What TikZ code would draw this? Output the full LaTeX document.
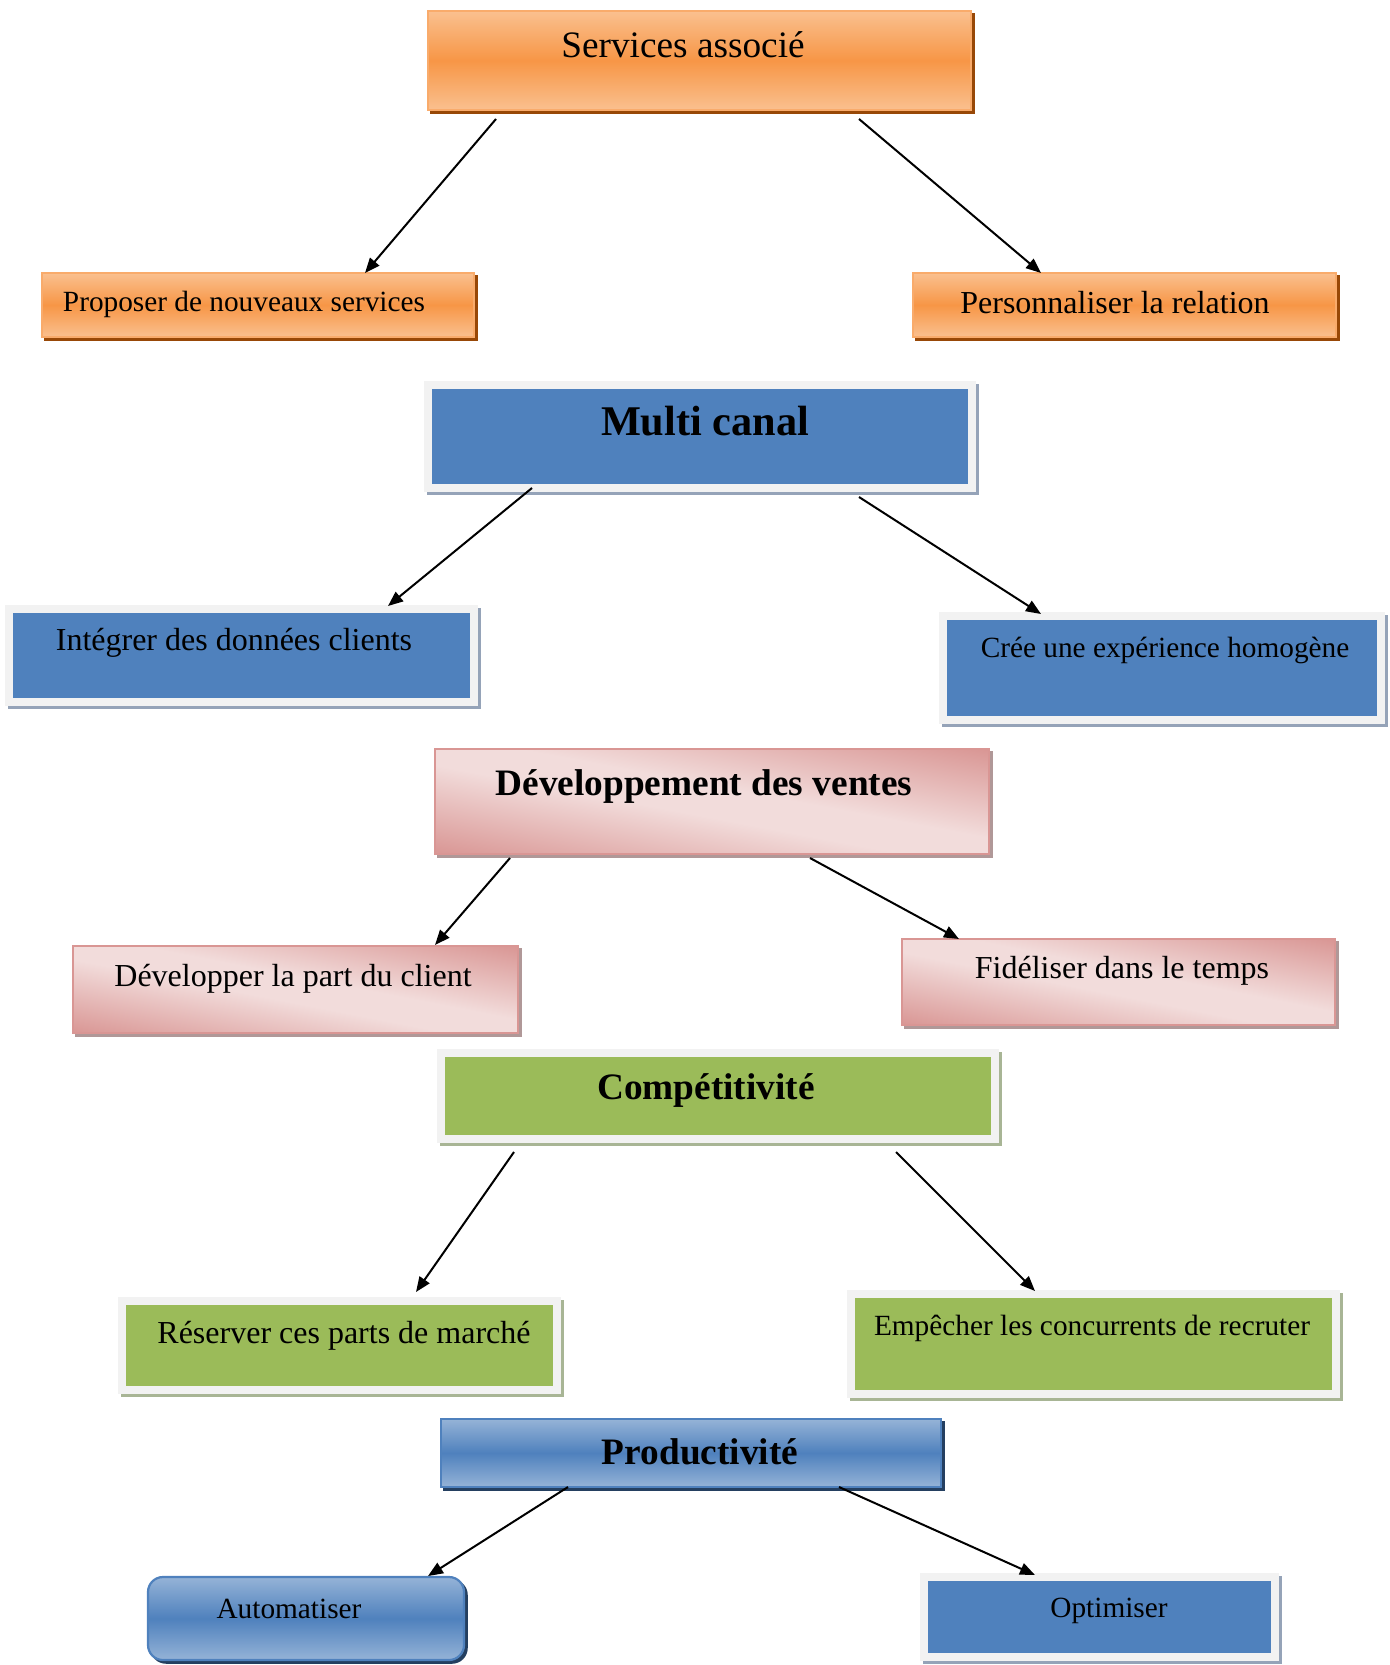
\documentclass[tikz,border=0pt]{standalone}
\usepackage{fontspec}
\setmainfont{Liberation Serif}
\usetikzlibrary{arrows.meta,calc}

\definecolor{orLight}{HTML}{FAC08F}
\definecolor{orMid}{HTML}{F79646}
\definecolor{orShadow}{HTML}{984807}
\definecolor{blMid}{HTML}{4F81BD}
\definecolor{blLight}{HTML}{95B3D7}
\definecolor{blShadow}{HTML}{243F60}
\definecolor{blGray}{HTML}{95A3B8}
\definecolor{pkDark}{HTML}{D99694}
\definecolor{pkLight}{HTML}{F2DCDB}
\definecolor{pkShadow}{HTML}{B09898}
\definecolor{grFill}{HTML}{9BBB59}
\definecolor{grShadow}{HTML}{A8B595}
\definecolor{frameGray}{HTML}{F2F2F2}

% pink fill: light along the top-left/bottom-right diagonal, D99694 towards
% the bottom-left and top-right corners (F2DCDB -> D99694)
\pgfdeclarefunctionalshading{pinkdiag}{\pgfpointorigin}{\pgfpoint{100bp}{100bp}}{}{
  add 100 sub abs 50 div 0.15 sub 0.85 div dup abs add 2 div
  dup -0.098 mul 0.949 add exch
  dup -0.275 mul 0.863 add exch
  -0.279 mul 0.859 add
}

\tikzset{
  wh/.style 2 args={rectangle, minimum width=#1*0.5pt, minimum height=#2*0.5pt,
    inner sep=0pt, outer sep=0pt},
  shadowed/.style={preaction={fill=#1, draw=#1, line width=0.75pt,
    transform canvas={xshift=1.5pt, yshift=-1.5pt}}},
  orangebox/.style={shadowed=orShadow, draw=orMid!80!white, line width=0.75pt,
    top color=orLight, bottom color=orLight, middle color=orMid},
  pinkbox/.style={shadowed=pkShadow, draw=pkDark, line width=0.75pt,
    shading=pinkdiag},
  bluegrad/.style={shadowed=blShadow, draw=blMid, line width=0.9pt,
    top color=blLight, bottom color=blLight, middle color=blMid},
  framed/.style={preaction={fill=#1, draw=#1, line width=4pt,
    transform canvas={xshift=1.5pt, yshift=-1.5pt}},
    draw=frameGray, line width=4pt},
  bluebox/.style={framed=blGray, fill=blMid},
  greenbox/.style={framed=grShadow, fill=grFill},
  lbl/.style={inner sep=0pt, text height=1em, text depth=0.02em, anchor=center},
  lblbig/.style={inner sep=0pt, text height=1.16em, text depth=0.02em, anchor=center},
  txtS/.style={lbl, font=\fontsize{14.65}{17}\selectfont},
  txtM/.style={lbl, font=\fontsize{16}{19}\selectfont},
  txtR/.style={lblbig, font=\fontsize{18.65}{22}\selectfont},
  txtB/.style={lblbig, font=\fontsize{18.65}{22}\selectfont\bfseries},
  txtL/.style={lblbig, font=\fontsize{21.15}{25}\selectfont\bfseries},
  arr/.style={line width=1pt, -{Triangle[length=7.5pt, width=6pt]}}
}

\begin{document}
\begin{tikzpicture}[x=0.5pt, y=-0.5pt]
\useasboundingbox (0,0) rectangle (1389,1665);

% --- Services associé ---
\node[orangebox, wh={543}{99}] (svc) at (699.5,60.5) {};
\node[txtR] (tsvc) at (683,46) {Services associé};
\node[orangebox, wh={432}{64}] (prop) at (258,305) {};
\node[txtS] (tprop) at (244,302) {Proposer de nouveaux services};
\node[orangebox, wh={423}{64}] (pers) at (1124.5,305) {};
\node[txtM] (tpers) at (1115,304) {Personnaliser la relation};

% --- Multi canal ---
\node[bluebox, wh={544}{103}] (multi) at (700,436.5) {};
\node[txtL] (tmulti) at (705,424) {Multi canal};
\node[bluebox, wh={465}{93}] (integ) at (241.5,655.5) {};
\node[txtM] (tinteg) at (234,641) {Intégrer des données clients};
\node[bluebox, wh={438}{104}] (cree) at (1162,668) {};
\node[txtS] (tcree) at (1165,648) {Crée une expérience homogène};

% --- Développement des ventes ---
\node[pinkbox, wh={554}{105}] (dev) at (712,801.5) {};
\node[txtB] (tdev) at (704,784) {Développement des ventes};
\node[pinkbox, wh={445}{87}] (devp) at (295.5,989.5) {};
\node[txtM] (tdevp) at (293,977) {Développer la part du client};
\node[pinkbox, wh={433}{86}] (fid) at (1118.5,982) {};
\node[txtM] (tfid) at (1122,969) {Fidéliser dans le temps};

% --- Compétitivité ---
\node[greenbox, wh={554}{86}] (comp) at (718,1096) {};
\node[txtB] (tcomp) at (706,1088) {Compétitivité};
\node[greenbox, wh={435}{89}] (reserv) at (339.5,1345.5) {};
\node[txtM] (treserv) at (344,1334) {Réserver ces parts de marché};
\node[greenbox, wh={485}{100}] (empech) at (1093.5,1344) {};
\node[txtS] (tempech) at (1092,1326) {Empêcher les concurrents de recruter};

% --- Productivité ---
\node[bluegrad, wh={500}{68}] (prod) at (691,1453) {};
\node[txtB] (tprod) at (700,1453) {Productivité};
\node[bluegrad, wh={316}{83}, rounded corners=7.5pt, line width=1.1pt] (auto) at (306,1618.5) {};
\node[txtS] (tauto) at (289,1609) {Automatiser};
\node[bluebox, wh={351}{80}] (optim) at (1099.5,1617) {};
\node[txtS] (toptim) at (1109,1608) {Optimiser};

% --- connectors ---
\draw[arr] ($(svc.south west)+(68,9)$) -- ($(prop.north west)+(323,0)$);
\draw[arr] ($(svc.south west)+(431,9)$) -- ($(pers.north west)+(128,0)$);
\draw[arr] ($(multi.south west)+(104,0)$) -- ($(integ.north west)+(379,-3)$);
\draw[arr] ($(multi.south west)+(431,9)$) -- ($(cree.north west)+(98,-2)$);
\draw[arr] ($(dev.south west)+(75,4)$) -- ($(devp.north west)+(362,-1)$);
\draw[arr] ($(dev.south west)+(375,4)$) -- ($(fid.north west)+(57,0)$);
\draw[arr] ($(comp.south west)+(73,13)$) -- ($(reserv.north west)+(294,-9)$);
\draw[arr] ($(comp.south west)+(455,13)$) -- ($(empech.north west)+(184,-3)$);
\draw[arr] ($(prod.south west)+(127,0)$) -- ($(auto.north west)+(280,-1)$);
\draw[arr] ($(prod.south west)+(398,0)$) -- ($(optim.north west)+(111,-2)$);
\end{tikzpicture}
\end{document}
